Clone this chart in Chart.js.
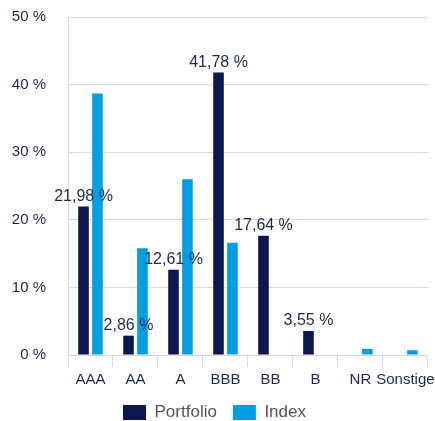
<!DOCTYPE html>
<html>
<head>
<meta charset="utf-8">
<script src="https://cdn.jsdelivr.net/npm/chart.js@4"></script>
<style>
  html, body { margin: 0; padding: 0; background: #fff; }
  #wrap { width: 435px; height: 421px; }
</style>
</head>
<body>
<div id="wrap"><canvas id="myChart" width="435" height="421"></canvas></div>
<script>
const labels = ["AAA", "AA", "A", "BBB", "BB", "B", "NR", "Sonstige"];
const portfolio = [21.98, 2.86, 12.61, 41.78, 17.64, 3.55, 0, 0];
const index = [38.7, 15.8, 26.0, 16.6, 0, 0, 0.9, 0.7];

const navy = "#0b174d";
const cyan = "#009fe3";
const textColor = "#1c2a52";
const gridColor = "#d3dbe7";
const fontFamily = "'Liberation Sans', Arial, sans-serif";

// value labels above portfolio bars
const valueLabels = {
  id: "valueLabels",
  afterDatasetsDraw(chart) {
    const ctx = chart.ctx;
    const meta = chart.getDatasetMeta(0);
    ctx.save();
    ctx.font = "16px " + fontFamily;
    ctx.fillStyle = textColor;
    ctx.textAlign = "center";
    ctx.textBaseline = "bottom";
    meta.data.forEach((bar, i) => {
      const v = portfolio[i];
      if (!v) return;
      ctx.fillText(v.toFixed(2).replace(".", ",") + " %", bar.x, bar.y - 2);
    });
    ctx.restore();
  },
};

const data = {
  labels: labels,
  datasets: [
    { label: "Portfolio", data: portfolio, backgroundColor: navy },
    { label: "Index", data: index, backgroundColor: cyan },
  ],
};

const config = {
  type: "bar",
  data: data,
  options: {
    responsive: false,
    animation: false,
    categoryPercentage: 0.62,
    barPercentage: 0.76,
    layout: { padding: { top: 17, right: 6, left: 0, bottom: -10 } },
    plugins: {
      legend: {
        position: "bottom",
        labels: {
          boxWidth: 23,
          boxHeight: 15,
          padding: 16,
          color: "#555",
          font: { family: fontFamily, size: 17 },
        },
      },
      tooltip: { enabled: false },
    },
    scales: {
      x: {
        afterFit(scale) { scale.height = 33; },
        grid: {
          offset: true,
          drawOnChartArea: false,
          color: gridColor,
          tickLength: 12,
        },
        border: { color: gridColor },
        ticks: {
          color: textColor,
          padding: 0,
          maxRotation: 0,
          autoSkip: false,
          font: { family: fontFamily, size: 15, lineHeight: 1.7 },
        },
      },
      y: {
        min: 0,
        max: 50,
        afterFit(scale) { scale.width = 68; },
        grid: { color: gridColor, tickLength: 22, tickColor: "rgba(0,0,0,0)" },
        border: { color: gridColor },
        ticks: {
          stepSize: 10,
          padding: 0,
          color: textColor,
          font: { family: fontFamily, size: 15 },
          callback: (v) => v + " %",
        },
      },
    },
  },
  plugins: [valueLabels],
};

const myChart = new Chart(document.getElementById("myChart"), config);
</script>
</body>
</html>
